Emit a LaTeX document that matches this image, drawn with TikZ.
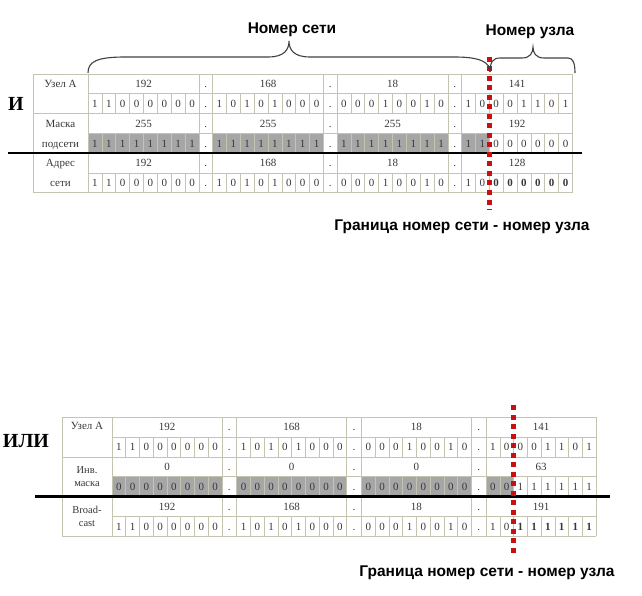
\documentclass[tikz,border=0pt]{standalone}
\usepackage{fontspec}
\setmainfont{Liberation Serif}
\newfontfamily\labelfont{Liberation Sans}
\usepackage{xcolor}
\definecolor{cellline}{RGB}{196,196,176}
\definecolor{maskgray}{RGB}{166,166,166}
\definecolor{borderred}{RGB}{200,16,16}
\definecolor{celltext}{RGB}{55,55,55}
\tikzset{
    cell-text/.style = {inner sep=0pt, text=celltext, text height=7.5pt, text depth=0pt, font=\fontsize{11}{12}\selectfont},
    two-line-text/.style = {inner sep=0pt, text=celltext, align=center, font=\fontsize{10.5}{13}\selectfont},
    cell-line/.style = {draw=cellline, line width=0.6pt},
    mask-fill/.style = {fill=maskgray},
    sep-line/.style = {draw=black, line width=2.6pt},
    border-dots/.style = {draw=borderred, line width=5pt, dash pattern=on 5pt off 4.5pt},
    brace-line/.style = {draw=black!75, line width=1.1pt},
    caption-text/.style = {inner sep=0pt, font=\labelfont\bfseries\fontsize{15.5}{17}\selectfont},
    op-text/.style = {inner sep=0pt, font=\bfseries\fontsize{20}{22}\selectfont},
}
% grid, shading and dots of one table
\newcommand{\ipframe}[1]{%
  \pgfmathsetmacro\tw{\lw+4*\ow+3*\dw}
  \foreach \k in {0,1,2}
    \fill[mask-fill] (\lw+\k*\ow+\k*\dw,3*\rh) rectangle ++(\ow,\rh);
  \fill[mask-fill] (\lw+3*\ow+3*\dw,3*\rh) rectangle ++(\ow/4,\rh);
  \foreach \r in {0,2,4,6}
    \draw[cell-line] (0,\r*\rh) -- (\tw,\r*\rh);
  \foreach \r in {1,3,5}
    \draw[cell-line] (\lw,\r*\rh) -- (\tw,\r*\rh);
  \draw[cell-line] (0,0) -- (0,6*\rh);
  \foreach \k in {0,...,3} {
    \draw[cell-line] (\lw+\k*\ow+\k*\dw,0) -- ++(0,6*\rh);
    \draw[cell-line] (\lw+\k*\ow+\ow+\k*\dw,0) -- ++(0,6*\rh);
  }
  \foreach \k in {0,1,2}
    \foreach \r in {0,...,5}
      \node[cell-text] (#1-dot-\k-\r) at (\lw+\k*\ow+\ow+\k*\dw+\dw/2,\r*\rh+\rh/2) {.};
}
% one octet: table, row, octet no, value, bits
\newcommand{\ipoctet}[5]{%
  \pgfmathsetmacro\ox{\lw+#3*(\ow+\dw)}
  \node[cell-text] (#1-val-#2-#3) at (\ox+\ow/2,#2*\rh+\rh/2) {#4};
  \foreach \bitv [count=\i from 0] in {#5}
    \node[cell-text] (#1-bit-#2-#3-\i) at (\ox+\i*\ow/8+\ow/16,#2*\rh+1.5*\rh) {\bitv};
  \foreach \i in {1,...,7}
    \draw[cell-line] (\ox+\i*\ow/8,#2*\rh+\rh) -- ++(0,\rh);
}

\begin{document}
\begin{tikzpicture}[x=1pt,y=-1pt]
\useasboundingbox (0,0) rectangle (642,596);

% AND
\node[op-text] (and) at (16,104) {И};
\begin{scope}[shift={(33,74)}]
  \def\lw{55}\def\ow{111}\def\dw{13.5}\def\rh{19.8}
  \ipframe{and}
  \node[cell-text] (and-host) at (\lw/2,\rh/2) {Узел А};
  \node[cell-text] (and-mask1) at (\lw/2,2.5*\rh) {Маска};
  \node[cell-text] (and-mask2) at (\lw/2,3.5*\rh) {подсети};
  \node[cell-text] (and-net1) at (\lw/2,4.5*\rh) {Адрес};
  \node[cell-text] (and-net2) at (\lw/2,5.5*\rh) {сети};
  \ipoctet{and}{0}{0}{192}{1,1,0,0,0,0,0,0}
  \ipoctet{and}{0}{1}{168}{1,0,1,0,1,0,0,0}
  \ipoctet{and}{0}{2}{18}{0,0,0,1,0,0,1,0}
  \ipoctet{and}{0}{3}{141}{1,0,0,0,1,1,0,1}
  \ipoctet{and}{2}{0}{255}{1,1,1,1,1,1,1,1}
  \ipoctet{and}{2}{1}{255}{1,1,1,1,1,1,1,1}
  \ipoctet{and}{2}{2}{255}{1,1,1,1,1,1,1,1}
  \ipoctet{and}{2}{3}{192}{1,1,0,0,0,0,0,0}
  \ipoctet{and}{4}{0}{192}{1,1,0,0,0,0,0,0}
  \ipoctet{and}{4}{1}{168}{1,0,1,0,1,0,0,0}
  \ipoctet{and}{4}{2}{18}{0,0,0,1,0,0,1,0}
  \ipoctet{and}{4}{3}{128}{1,0,\textbf{0},\textbf{0},\textbf{0},\textbf{0},\textbf{0},\textbf{0}}
  \coordinate (and-sep-l) at (-25,4*\rh);
  \coordinate (and-sep-r) at (\tw+9.5,4*\rh);
  \draw[sep-line] (and-sep-l) -- (and-sep-r);
  \coordinate (and-cut-top) at (\lw+3*\ow+3*\dw+\ow/4,-17);
  \coordinate (and-cut-bot) at (\lw+3*\ow+3*\dw+\ow/4,136);
  \draw[border-dots] (and-cut-top) -- (and-cut-bot);
\end{scope}

% braces over the top table
\node[caption-text] (net-label) at (292,30) {Номер сети};
\node[caption-text] (host-label) at (530,32) {Номер узла};
\draw[brace-line] (88,73) .. controls (88,62) and (96,57) .. (125,57) -- (268,57)
    .. controls (284,57) and (289,50) .. (289,41) .. controls (289,50) and (294,57) .. (310,57)
    -- (455,57) .. controls (482,57) and (490,63) .. (490,72);
\draw[brace-line] (490,72) .. controls (490,62) and (493,58) .. (500,58) -- (522,58)
    .. controls (530,58) and (533,53) .. (533,47) .. controls (533,53) and (536,58) .. (544,58)
    -- (568,58) .. controls (573,58) and (575,63) .. (575,73);
\node[caption-text] (and-caption) at (462,227) {Граница номер сети - номер узла};

% OR
\node[op-text] (or) at (26,441) {ИЛИ};
\begin{scope}[shift={(62,417)}]
  \def\lw{50}\def\ow{110}\def\dw{14.7}\def\rh{19.9}
  \ipframe{or}
  \node[cell-text] (or-host) at (\lw/2,\rh/2-1.5) {Узел А};
  \node[two-line-text] (or-inv) at (\lw/2,3*\rh) {Инв.\\маска};
  \node[two-line-text] (or-bcast) at (\lw/2,5*\rh) {Broad-\\cast};
  \ipoctet{or}{0}{0}{192}{1,1,0,0,0,0,0,0}
  \ipoctet{or}{0}{1}{168}{1,0,1,0,1,0,0,0}
  \ipoctet{or}{0}{2}{18}{0,0,0,1,0,0,1,0}
  \ipoctet{or}{0}{3}{141}{1,0,0,0,1,1,0,1}
  \ipoctet{or}{2}{0}{0}{0,0,0,0,0,0,0,0}
  \ipoctet{or}{2}{1}{0}{0,0,0,0,0,0,0,0}
  \ipoctet{or}{2}{2}{0}{0,0,0,0,0,0,0,0}
  \ipoctet{or}{2}{3}{63}{0,0,1,1,1,1,1,1}
  \ipoctet{or}{4}{0}{192}{1,1,0,0,0,0,0,0}
  \ipoctet{or}{4}{1}{168}{1,0,1,0,1,0,0,0}
  \ipoctet{or}{4}{2}{18}{0,0,0,1,0,0,1,0}
  \ipoctet{or}{4}{3}{191}{1,0,\textbf{1},\textbf{1},\textbf{1},\textbf{1},\textbf{1},\textbf{1}}
  \coordinate (or-sep-l) at (-27,4*\rh);
  \coordinate (or-sep-r) at (\tw+14,4*\rh);
  \draw[sep-line] (or-sep-l) -- (or-sep-r);
  \coordinate (or-cut-top) at (\lw+3*\ow+3*\dw+\ow/4,-12);
  \coordinate (or-cut-bot) at (\lw+3*\ow+3*\dw+\ow/4,140);
  \draw[border-dots] (or-cut-top) -- (or-cut-bot);
\end{scope}
\node[caption-text] (or-caption) at (487,573) {Граница номер сети - номер узла};
\end{tikzpicture}
\end{document}
